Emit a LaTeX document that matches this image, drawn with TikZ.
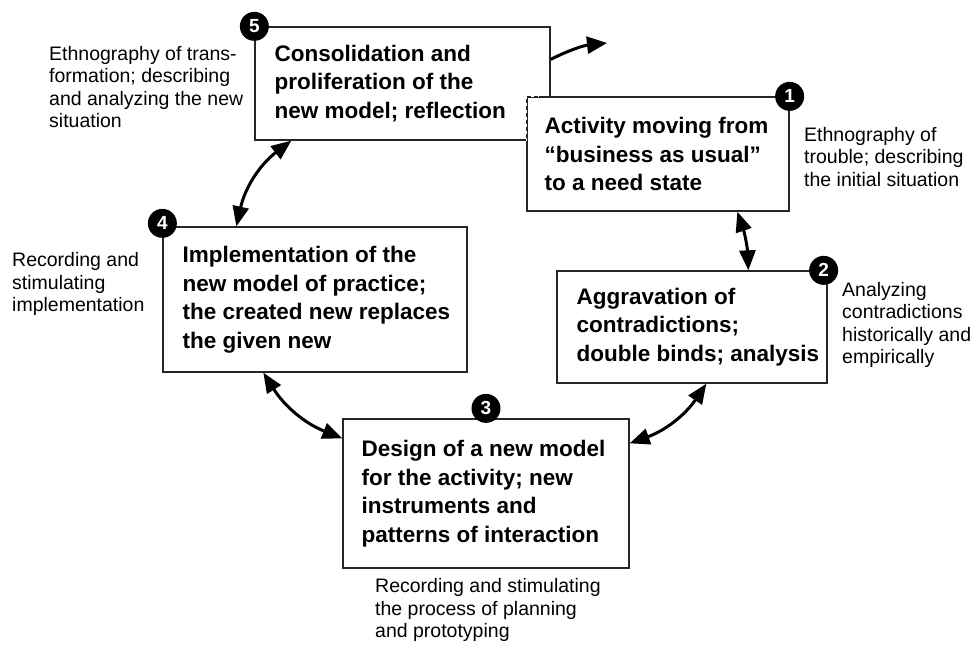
\documentclass[tikz,border=0pt]{standalone}
\usepackage{fontspec}
\setmainfont{Liberation Sans}
\usetikzlibrary{positioning,arrows.meta}

\begin{document}
\begin{tikzpicture}[
    x=1pt, y=-1pt,
    stage/.style={rectangle,draw=black!85,line width=1.3pt,fill=white,inner sep=0pt},
    stagetext/.style={align=left,inner sep=0pt,font=\fontsize{22.5}{28.5}\selectfont\bfseries},
    num/.style={circle,fill=black,text=white,inner sep=0pt,minimum size=29pt,font=\fontsize{19}{19}\selectfont\bfseries},
    note/.style={align=left,anchor=west,inner sep=0pt,font=\fontsize{19.5}{22.5}\selectfont},
    twoway/.style={{Triangle[length=20pt,width=16pt]}-{Triangle[length=20pt,width=16pt]},line width=3pt},
    oneway/.style={-{Triangle[length=20pt,width=17pt]},line width=3pt}
]

\useasboundingbox (0,0) rectangle (974,650);

% Stage boxes (pixel units, y downwards)
\node[stage,minimum width=295pt,minimum height=113pt] (box5) at (402.5,83.5) {};
\node[stage,minimum width=262pt,minimum height=114pt] (box1) at (658,154) {};
\draw[white,line width=1.6pt,dash pattern=on 3pt off 4pt] (box1.north west |- box5.south) -- (box1.north west) -- ++(12,0);
\node[stage,minimum width=270pt,minimum height=112pt] (box2) at (692,327) {};
\node[stage,minimum width=304pt,minimum height=145pt] (box4) at (315,299.5) {};
\node[stage,minimum width=286pt,minimum height=149pt] (box3) at (486,493.5) {};

% Texts inside the boxes
\node[stagetext,right=20pt of box5.west] (txt5) {Consolidation and\\proliferation of the\\new model; reflection};
\node[stagetext,right=18pt of box1.west] (txt1) {Activity moving from\\“business as usual”\\to a need state};
\node[stagetext,right=20pt of box2.west] (txt2) {Aggravation of\\contradictions;\\double binds; analysis};
\node[stagetext,right=20pt of box4.west] (txt4) {Implementation of the\\new model of practice;\\the created new replaces\\the given new};
\node[stagetext,right=19pt of box3.west] (txt3) {Design of a new model\\for the activity; new\\instruments and\\patterns of interaction};

% Step numbers
\node[num] (n5) at (box5.north west) {5};
\node[num] (n1) at (box1.north east) {1};
\node[num] (n2) at ([xshift=-4pt]box2.north east) {2};
\node[num] (n4) at ([yshift=3pt]box4.north west) {4};
\node[num] (n3) at ([yshift=10pt]box3.north) {3};

% Research notes
\node[note] (note5) at (49,87) {Ethnography of trans-\\formation; describing\\and analyzing the new\\situation};
\node[note] (note1) at (804,157) {Ethnography of\\trouble; describing\\the initial situation};
\node[note] (note2) at (842,325) {Analyzing\\contradictions\\historically and\\empirically};
\node[note] (note4) at (12,284) {Recording and\\stimulating\\implementation};
\node[note] (note3) at (375,610) {Recording and stimulating\\the process of planning\\and prototyping};

% Arrows of the cycle
\draw[twoway] ([xshift=211pt]box1.south west) to[bend left=8] ([xshift=192pt]box2.north west);
\draw[twoway] ([xshift=150pt]box2.south west) to[bend left=18] ([yshift=-25pt]box3.north east);
\draw[twoway] ([xshift=101pt]box4.south west) to[bend right=18] ([yshift=-20pt]box3.north west);
\draw[twoway] ([xshift=37pt]box5.south west) to[bend right=20] ([xshift=74pt]box4.north west);

% Way out of the cycle
\coordinate (exit) at (607,43);
\draw[oneway] ([yshift=-33pt]box5.north east) to[bend left=10] (exit);

\end{tikzpicture}
\end{document}
